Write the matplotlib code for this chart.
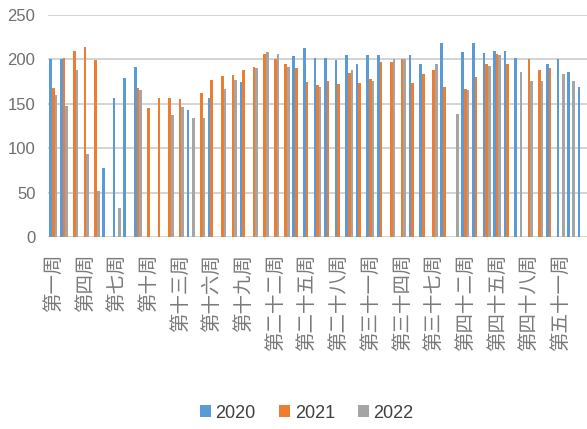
import numpy as np
import matplotlib
matplotlib.use("Agg")
import matplotlib.pyplot as plt

nan = np.nan

weeks = [
    "第一周", "第二周", "第三周", "第四周", "第五周", "第六周", "第七周", "第八周",
    "第九周", "第十周", "第十一周", "第十二周", "第十三周", "第十四周", "第十五周",
    "第十六周", "第十七周", "第十八周", "第十九周", "第二十周", "第二十一周",
    "第二十二周", "第二十三周", "第二十四周", "第二十五周", "第二十六周", "第二十七周",
    "第二十八周", "第二十九周", "第三十周", "第三十一周", "第三十二周", "第三十三周",
    "第三十四周", "第三十五周", "第三十六周", "第三十七周", "第四十周", "第四十一周",
    "第四十二周", "第四十三周", "第四十四周", "第四十五周", "第四十六周", "第四十七周",
    "第四十八周", "第四十九周", "第五十周", "第五十一周", "第五十二周", "第五十三周",
]

# weekly values per year, nan = no record that week
y2020 = [200, 200, nan, nan, nan, 78, 156, 179, 191, nan, nan, nan, nan, 143, nan,
         156, nan, nan, 174, nan, nan, nan, nan, 204, 213, 202, 202, 199, 205, 195,
         205, 205, nan, nan, 205, 195, nan, 218, nan, 208, 219, 207, 209, 210, 202,
         nan, nan, 195, 200, 186, 169]
y2021 = [168, 202, 209, 214, 199, nan, nan, nan, 168, 145, 156, 156, 155, nan, 162,
         177, 181, 182, 188, 191, 206, 201, 195, 190, 174, 171, 176, 172, 185, 173,
         178, 197, 197, 200, 173, 184, 188, 169, nan, 167, 180, 195, 206, 195, nan,
         200, 188, 190, nan, nan, nan]
y2022 = [160, 147, 188, 94, 52, nan, 33, nan, 165, nan, nan, 137, 146, 134, 134,
         nan, 167, 177, nan, 190, 208, 206, 191, nan, nan, 169, nan, nan, 188, nan,
         176, nan, 200, 200, nan, nan, 195, nan, 139, 165, nan, 193, 205, nan, 186,
         176, 176, nan, 184, 176, nan]

years = ["2020", "2021", "2022"]
colors = ["#5B9BD5", "#ED7D31", "#A5A5A5"]

num_font = "Liberation Sans"
cjk_font = ["Noto Sans CJK SC", "DejaVu Sans"]

fig = plt.figure(figsize=(5.87, 4.29), dpi=100)
ax = fig.add_axes([48 / 587, 1 - 237 / 429, 1 - 48 / 587, (237 - 15) / 429])

x = np.arange(len(weeks))
w = 0.25
for i, (vals, c, lab) in enumerate(zip([y2020, y2021, y2022], colors, years)):
    ax.bar(x + (i - 1) * w, vals, w, color=c, label=lab, linewidth=0)

ax.set_ylim(0, 250)
ax.set_yticks(range(0, 251, 50))
ax.set_xlim(-0.5, len(weeks) - 0.5)
ax.set_xticks(x[::3])
ax.set_xticklabels(weeks[::3], rotation=90, family=cjk_font, fontsize=14,
                   color="#7a7a7a", va="top")
for t in ax.get_yticklabels():
    t.set_family(num_font)
    t.set_fontsize(12)
    t.set_color("#6e6e6e")
ax.tick_params(axis="both", length=0)
ax.tick_params(axis="y", pad=9)
ax.tick_params(axis="x", pad=12)

ax.yaxis.grid(True, color="#d0d0d0", linewidth=1.3)
ax.set_axisbelow(True)
for s in ax.spines.values():
    s.set_visible(False)

fig.legend(loc="center", bbox_to_anchor=(307 / 587, 1 - 413 / 429), ncol=3,
           frameon=False, handlelength=0.6, handleheight=0.6, handletextpad=0.25,
           columnspacing=1.3, prop={"family": num_font, "size": 13},
           labelcolor="#404040")

fig.savefig("out.png", dpi=100)
